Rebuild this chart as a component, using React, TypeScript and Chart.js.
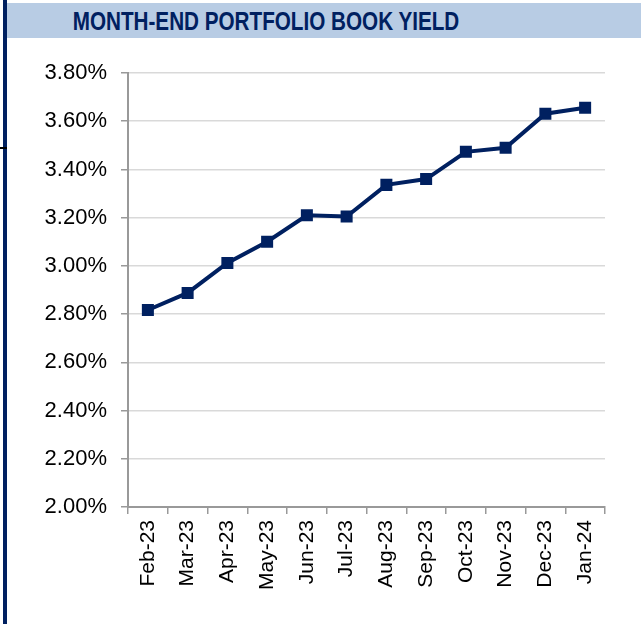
import React, { useEffect, useRef } from "react";
import { Chart, registerables } from "chart.js";

Chart.register(...registerables);

const months = ["Feb-23", "Mar-23", "Apr-23", "May-23", "Jun-23", "Jul-23", "Aug-23", "Sep-23", "Oct-23", "Nov-23", "Dec-23", "Jan-24"];
const bookYield = [2.817, 2.888, 3.012, 3.1, 3.21, 3.205, 3.336, 3.36, 3.473, 3.49, 3.631, 3.656];
const yMin = 2.0;
const yMax = 3.8;
const yStep = 0.2;
const titleText = "MONTH-END PORTFOLIO BOOK YIELD";

const NAVY = "#002060";
const FONT = "'Liberation Sans', Arial, sans-serif";

export default function App() {
  const ref = useRef<HTMLCanvasElement | null>(null);
  useEffect(() => {
    if (!ref.current) return;
    const chart = new Chart(ref.current, {
      type: "line",
      data: {
        labels: months,
        datasets: [
          {
            data: bookYield,
            borderColor: NAVY,
            backgroundColor: NAVY,
            borderWidth: 4,
            pointStyle: "rect",
            pointRadius: 8.5,
            pointBackgroundColor: NAVY,
            pointBorderColor: NAVY,
            pointBorderWidth: 0,
            tension: 0,
          },
        ],
      },
      options: {
        responsive: false,
        animation: false,
        layout: { padding: { top: 73, right: 36, left: 0, bottom: 0 } },
        plugins: { legend: { display: false }, title: { display: false }, tooltip: { enabled: false } },
        scales: {
          x: {
            offset: true,
            grid: { display: true, drawOnChartArea: false, drawTicks: true, tickLength: 7, tickColor: "#999999", offset: true, lineWidth: 1.5 },
            border: { color: "#999999", width: 2 },
            ticks: {
              color: "#000000",
              font: { family: FONT, size: 21 },
              maxRotation: 90,
              minRotation: 90,
              padding: 6,
              autoSkip: false,
            },
            afterFit: (s: any) => {
              s.height = 117;
            },
          },
          y: {
            min: yMin,
            max: yMax,
            grid: { color: "#d9d9d9", lineWidth: 1.5, tickLength: 7, tickColor: "#999999", drawTicks: true },
            border: { color: "#999999", width: 2 },
            ticks: {
              stepSize: yStep,
              color: "#000000",
              font: { family: FONT, size: 22 },
              padding: 14,
              callback: (v: any) => Number(v).toFixed(2) + "%",
            },
            afterFit: (s: any) => {
              s.width = 128;
            },
          },
        },
      },
    });
    return () => chart.destroy();
  }, []);

  return (
    <div style={{ position: "absolute", left: 0, top: 0, width: 641, height: 624, background: "#ffffff", overflow: "hidden" }}>
      <div style={{ position: "absolute", left: 3, top: 0, width: 4, height: 624, background: NAVY }} />
      <div style={{ position: "absolute", left: 0, top: 147, width: 7, height: 2, background: "#000" }} />
      <div
        style={{
          position: "absolute",
          left: 7,
          top: 3,
          width: 634,
          height: 35,
          background: "#B8CCE4",
        }}
      />
      <div
        style={{
          position: "absolute",
          left: 16,
          top: 3,
          width: 500,
          height: 35,
          lineHeight: "36px",
          color: NAVY,
          fontFamily: "'Liberation Sans', Arial, sans-serif",
          fontWeight: "bold",
          fontSize: 26.5,
          whiteSpace: "nowrap",
          textAlign: "center",
          transform: "scaleX(0.78)",
          transformOrigin: "50% 50%",
        }}
      >
        {titleText}
      </div>
      <canvas ref={ref} width={641} height={624} style={{ position: "absolute", left: 0, top: 0 }} />
    </div>
  );
}
